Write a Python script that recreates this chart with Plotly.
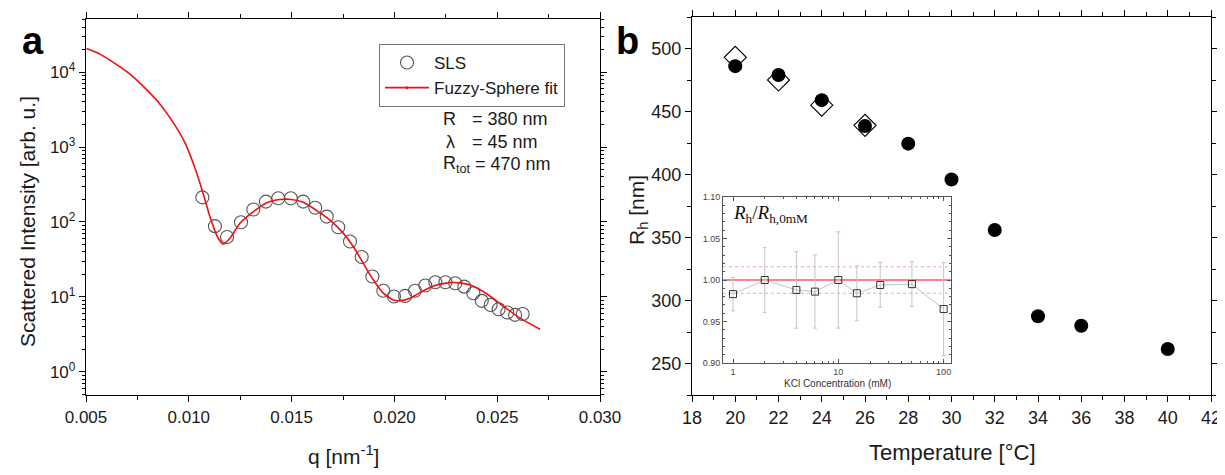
import plotly.graph_objects as go

# the page body keeps its default 8 px margin, so the figure is drawn 8 px in
OFF = 8
W, H = 1225 - OFF, 475 - OFF

# ---- panel a: static light scattering + fuzzy-sphere fit ----
q_sls = [0.01066, 0.01127, 0.01186, 0.01254, 0.01314, 0.01375, 0.01435, 0.01496,
         0.01557, 0.01615, 0.01671, 0.01727, 0.01784, 0.01841, 0.01893, 0.01946,
         0.01998, 0.02052, 0.02100, 0.02150, 0.02199, 0.02248, 0.02296, 0.02340,
         0.02384, 0.02425, 0.02468, 0.02507, 0.02549, 0.02587, 0.02624]
i_sls = [213, 88, 63, 99, 147, 187, 207, 207,
         187, 155, 118, 85, 55, 34, 18.7, 12.1,
         10.1, 10.3, 12.1, 14.2, 15.7, 15.7, 15.2, 13.7,
         11.2, 8.85, 7.8, 6.85, 6.2, 5.75, 5.9]

q_fit = [0.00503, 0.00568, 0.00631, 0.00714, 0.00797, 0.00860, 0.00923, 0.00982,
         0.01030, 0.01069, 0.01103, 0.01137, 0.01168, 0.01200, 0.01249, 0.01314,
         0.01379, 0.01444, 0.01500, 0.01557, 0.01622, 0.01687, 0.01751, 0.01800,
         0.01849, 0.01897, 0.01946, 0.01995, 0.02027, 0.02076, 0.02124, 0.02189,
         0.02270, 0.02319, 0.02384, 0.02449, 0.02530, 0.02611, 0.02708]
i_fit = [20700, 17400, 13600, 9400, 5750, 3740, 2150, 1130,
         525, 244, 117, 65, 50.5, 60.5, 96, 137,
         181, 200, 200, 183, 142, 106, 71, 47,
         28, 16.9, 11.2, 9.1, 8.9, 9.6, 11.4, 14.0,
         15.5, 15.4, 13.9, 11.0, 7.5, 5.2, 3.7]

fit_params = ["R", "\u03bb", "R<sub>tot</sub>"]
fit_values = ["= 380 nm", "= 45 nm", "= 470 nm"]

# ---- panel b: hydrodynamic radius vs temperature ----
temp_filled = [20, 22, 24, 26, 28, 30, 32, 34, 36, 40]
rh_filled = [486, 479, 459, 438.5, 424.5, 396, 356, 287.5, 280, 261.5]
temp_open = [20, 22, 24, 26]
rh_open = [493, 475, 455, 439]

# ---- inset: Rh ratio vs KCl ----
kcl_mm = [1, 2, 4, 6, 10, 15, 25, 50, 100]
rh_ratio = [0.983, 1.000, 0.988, 0.986, 1.000, 0.984, 0.994, 0.995, 0.965]
rh_ratio_err = [0.020, 0.039, 0.046, 0.044, 0.058, 0.033, 0.027, 0.027, 0.056]
ratio_ref = 1.0
ratio_band = [0.984, 1.016]


def px(x):
    return (x - OFF) / W


def py(y):
    return 1 - (y - OFF) / H


FONT = "Liberation Sans, Arial, sans-serif"

fig = go.Figure()

fig.add_trace(go.Scatter(x=q_sls, y=i_sls, mode="markers", name="SLS",
                         marker=dict(symbol="circle-open", size=13, color="#555",
                                     line=dict(width=1.1)),
                         xaxis="x", yaxis="y"))
fig.add_trace(go.Scatter(x=q_fit, y=i_fit, mode="lines", showlegend=False,
                         line=dict(color="#f01010", width=1.6, shape="spline", smoothing=0.6),
                         xaxis="x", yaxis="y"))
# legend-only entry (line with small dot, like the original legend)
fig.add_trace(go.Scatter(x=[None], y=[None], mode="lines+markers", name="Fuzzy-Sphere fit",
                         line=dict(color="#f01010", width=1.6),
                         marker=dict(size=3, color="#f01010"),
                         xaxis="x", yaxis="y"))

fig.add_trace(go.Scatter(x=temp_open, y=rh_open, mode="markers", showlegend=False,
                         marker=dict(symbol="diamond-open", size=17, color="black",
                                     line=dict(width=1.1)),
                         xaxis="x2", yaxis="y2"))
fig.add_trace(go.Scatter(x=temp_filled, y=rh_filled, mode="markers", showlegend=False,
                         marker=dict(symbol="circle", size=14, color="black"),
                         xaxis="x2", yaxis="y2"))

fig.add_trace(go.Scatter(x=kcl_mm, y=rh_ratio, mode="lines+markers", showlegend=False,
                         line=dict(color="#c4c4c4", width=1),
                         marker=dict(symbol="square-open", size=7, color="#333",
                                     line=dict(width=1)),
                         error_y=dict(type="data", array=rh_ratio_err, color="#c4c4c4",
                                      thickness=1, width=2),
                         xaxis="x3", yaxis="y3"))

axis_common = dict(showline=True, linecolor="black", linewidth=1.3, mirror="allticks",
                   showgrid=False, zeroline=False, ticks="outside", ticklen=6,
                   tickcolor="black", tickwidth=1.2, automargin=False)

log_minor = [m * 10 ** e for e in range(-1, 5) for m in range(2, 10)]
y_major = [1, 10, 100, 1000, 10000]

fig.update_layout(
    width=W, height=H,
    margin=dict(l=0, r=0, t=0, b=0, autoexpand=False),
    paper_bgcolor="white", plot_bgcolor="rgba(0,0,0,0)",
    font=dict(family=FONT, color="#1a1a1a"),
    xaxis=dict(domain=[px(86), px(600)], anchor="y", range=[0.005, 0.030],
               dtick=0.005, tick0=0.005, tickformat=".3f",
               tickfont=dict(size=17),
               minor=dict(dtick=0.0025, tick0=0.005, ticks="outside", ticklen=4,
                          tickcolor="black"),
               **axis_common),
    yaxis=dict(domain=[py(395), py(19)], anchor="x", type="log", range=[-0.31, 4.71],
               tickmode="array", tickvals=y_major,
               ticktext=["10<sup>%d</sup>" % e for e in range(5)],
               tickfont=dict(size=17),
               minor=dict(tickmode="array", tickvals=log_minor, ticks="outside",
                          ticklen=3, tickcolor="black"),
               **axis_common),
    xaxis2=dict(domain=[px(692), px(1211)], anchor="y2", range=[18, 42], dtick=2,
                tickfont=dict(size=18),
                minor=dict(dtick=1, ticks="outside", ticklen=4, tickcolor="black"),
                **axis_common),
    yaxis2=dict(domain=[py(395), py(17)], anchor="x2", range=[225, 525], dtick=50,
                tickfont=dict(size=18),
                minor=dict(dtick=25, ticks="outside", ticklen=4, tickcolor="black"),
                **axis_common),
    xaxis3=dict(domain=[px(723), px(951)], anchor="y3", type="log", range=[-0.095, 2.07],
                tickmode="array", tickvals=[1, 10, 100], ticktext=["1", "10", "100"],
                tickfont=dict(size=9, color="#444"), automargin=False,
                showline=True, linecolor="#555", linewidth=1, mirror="allticks",
                showgrid=False, zeroline=False, ticks="inside", ticklen=4,
                tickcolor="#555",
                minor=dict(tickmode="array", tickvals=[m * 10 ** e for e in range(0, 2) for m in range(2, 10)],
                           ticks="inside", ticklen=2, tickcolor="#555")),
    yaxis3=dict(domain=[py(363), py(197)], anchor="x3", range=[0.90, 1.10], dtick=0.05,
                tickformat=".2f", tickfont=dict(size=9, color="#444"), automargin=False,
                showline=True, linecolor="#555", linewidth=1, mirror="allticks",
                showgrid=False, zeroline=False, ticks="inside", ticklen=4,
                tickcolor="#555",
                minor=dict(dtick=0.01, ticks="inside", ticklen=2, tickcolor="#555")),
    legend=dict(x=px(379), y=py(44), xanchor="left", yanchor="top",
                bgcolor="white", bordercolor="#777", borderwidth=1,
                font=dict(size=17, family=FONT, color="#1a1a1a"),
                tracegroupgap=0, itemwidth=44),
    showlegend=True,
)

# reference lines in the inset
fig.add_shape(type="line", xref="x3 domain", yref="y3", x0=0, x1=1,
              y0=ratio_ref, y1=ratio_ref, line=dict(color="#ff5a5a", width=1.5),
              layer="below")
for lvl in ratio_band:
    fig.add_shape(type="line", xref="x3 domain", yref="y3", x0=0, x1=1,
                  y0=lvl, y1=lvl, line=dict(color="#f5a5a5", width=1, dash="dot"),
                  layer="below")

ann = []
# panel letters
ann.append(dict(x=px(33), y=py(41), text="<b>a</b>", font=dict(size=38, color="black")))
ann.append(dict(x=px(627), y=py(41), text="<b>b</b>", font=dict(size=38, color="black")))
# axis titles
ann.append(dict(x=px(27), y=py(222), text="Scattered Intensity [arb. u.]", textangle=-90,
                font=dict(size=21)))
ann.append(dict(x=px(343), y=py(455), text="q [nm<sup>-1</sup>]", font=dict(size=21)))
ann.append(dict(x=px(952), y=py(452), text="Temperature [\u00b0C]", font=dict(size=22)))
ann.append(dict(x=px(638), y=py(210), text="R<sub>h</sub> [nm]", textangle=-90,
                font=dict(size=21)))
ann.append(dict(x=px(837), y=py(383), text="KCl Concentration (mM)",
                font=dict(size=10, color="#333")))
ann.append(dict(x=px(731), y=py(214), xanchor="left",
                text="<i>R</i><sub>h</sub>/<i>R</i><sub>h,0mM</sub>",
                font=dict(size=19, family="Liberation Serif, DejaVu Serif, serif", color="#111")))
# fit parameters
param_x = [441, 444, 441]
value_x = [470, 470, 473]
param_y = [119, 142, 164]
for p, v, xp, xv, yy in zip(fit_params, fit_values, param_x, value_x, param_y):
    ann.append(dict(x=px(xp), y=py(yy), xanchor="left", text=p, font=dict(size=18)))
    ann.append(dict(x=px(xv), y=py(yy), xanchor="left", text=v, font=dict(size=18)))

for a in ann:
    a.setdefault("xref", "paper")
    a.setdefault("yref", "paper")
    a.setdefault("showarrow", False)
    a.setdefault("xanchor", "center")
    a.setdefault("yanchor", "middle")
    fig.add_annotation(**a)

fig.write_html("out.html")
